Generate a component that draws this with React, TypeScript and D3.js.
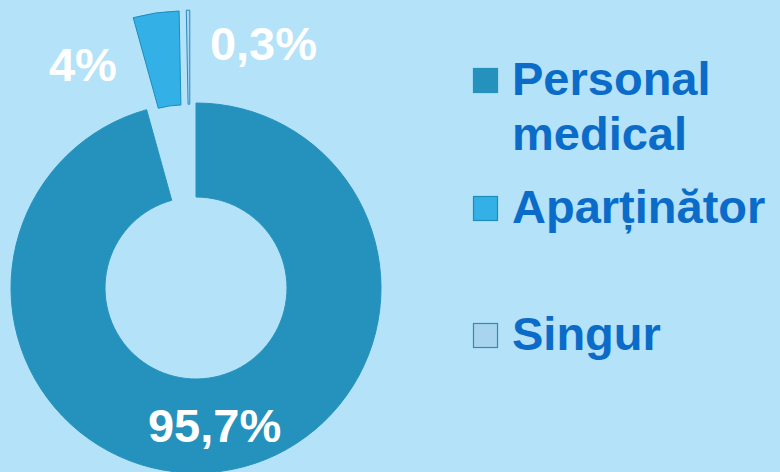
import React from 'react';
import * as d3 from 'd3';

const categories = ['Personal medical', 'Aparținător', 'Singur'];
const values = [95.7, 4, 0.3];
const valueLabels = ['95,7%', '4%', '0,3%'];

const W = 780;
const H = 472;
const FONT = '"Liberation Sans", Arial, sans-serif';

const fills = ['#2592be', '#33b0e5', '#a9d4f0'];
const strokes = ['#2592be', '#1f8cbd', '#2a8cbf'];
// how far each slice is pulled out, and a small tweak to the pull direction (deg)
const explode = [0, 93, 93];
const explodeTurn = [0, 0, -3.3];
// label placement: null = arc centroid, otherwise polar [deg, radius]
const labelPolar: ([number, number] | null)[] = [null, [-26.8, 251], [15.4, 254]];

export default function App() {
  const cx = 196;
  const cy = 288;
  const outerR = 185;
  const innerR = 91;

  const data = categories.map((name, i) => ({ name, value: values[i], label: valueLabels[i] }));

  const pie = d3
    .pie<{ name: string; value: number; label: string }>()
    .value(d => d.value)
    .sort(null);

  const arc = d3
    .arc<d3.PieArcDatum<{ name: string; value: number; label: string }>>()
    .outerRadius(outerR)
    .innerRadius(innerR);

  const arcs = pie(data);

  const paths = arcs.map((d, i) => {
    const mid = (d.startAngle + d.endAngle) / 2 + (explodeTurn[i] * Math.PI) / 180;
    const dx = Math.sin(mid) * explode[i];
    const dy = -Math.cos(mid) * explode[i];
    return (
      <path
        key={i}
        d={arc(d) || ''}
        transform={`translate(${dx},${dy})`}
        fill={fills[i]}
        stroke={strokes[i]}
        strokeWidth={1}
      />
    );
  });

  const labels = arcs.map((d, i) => {
    let x: number;
    let y: number;
    const lp = labelPolar[i];
    if (lp) {
      const a = (lp[0] * Math.PI) / 180;
      x = Math.sin(a) * lp[1];
      y = -Math.cos(a) * lp[1];
    } else {
      [x, y] = arc.centroid(d);
    }
    return (
      <text
        key={i}
        x={x}
        y={y}
        dy="0.36em"
        textAnchor="middle"
        fill="#ffffff"
        fontFamily={FONT}
        fontWeight="bold"
        fontSize={47}
      >
        {d.data.label}
      </text>
    );
  });

  const legendRows = [
    { y: 68, lines: ['Personal', 'medical'] },
    { y: 196, lines: ['Aparținător'] },
    { y: 323, lines: ['Singur'] }
  ];

  const legend = legendRows.map((row, i) => (
    <g key={i} transform={`translate(473,${row.y})`}>
      <rect x={0.5} y={0.5} width={24} height={24} fill={fills[i]} stroke={strokes[i]} strokeWidth={1.2} />
      <text fontFamily={FONT} fontWeight="bold" fontSize={47} fill="#0a6bc8">
        {row.lines.map((t, j) => (
          <tspan key={j} x={39} y={27 + j * 55}>
            {t}
          </tspan>
        ))}
      </text>
    </g>
  ));

  return (
    <div style={{ position: 'fixed', left: 0, top: 0, width: W, height: H }}>
      <svg width={W} height={H} style={{ display: 'block' }}>
        <rect width={W} height={H} fill="#b3e2f9" />
        <g transform={`translate(${cx},${cy})`}>
          {paths}
          {labels}
        </g>
        {legend}
      </svg>
    </div>
  );
}
